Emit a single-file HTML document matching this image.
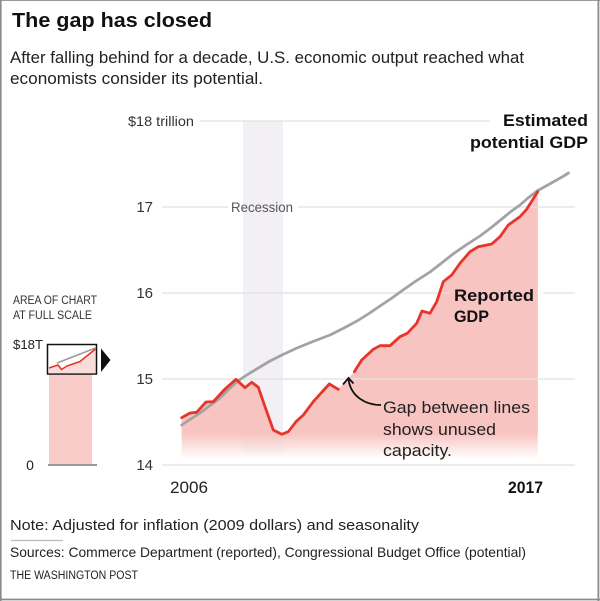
<!DOCTYPE html>
<html>
<head>
<meta charset="utf-8">
<style>
  html,body{margin:0;padding:0;background:#fff;}
  svg{display:block;}
  text{font-family:"Liberation Sans",Arial,sans-serif;}
</style>
</head>
<body>
<svg width="600" height="601" viewBox="0 0 600 601" xmlns="http://www.w3.org/2000/svg">
  <defs>
    <linearGradient id="fade" gradientUnits="userSpaceOnUse" x1="0" y1="433" x2="0" y2="459">
      <stop offset="0" stop-color="#f7c4c1" stop-opacity="1"/>
      <stop offset="1" stop-color="#f7c4c1" stop-opacity="0"/>
    </linearGradient>
    <linearGradient id="fadeBand" gradientUnits="userSpaceOnUse" x1="0" y1="430" x2="0" y2="458">
      <stop offset="0" stop-color="#f2f0f5" stop-opacity="1"/>
      <stop offset="1" stop-color="#f2f0f5" stop-opacity="0"/>
    </linearGradient>
  </defs>

  <rect x="0" y="0" width="600" height="601" fill="#fff"/>
  <!-- frame -->
  <line x1="0" y1="0.5" x2="600" y2="0.5" stroke="#9a9a9a" stroke-width="1"/>
  <line x1="0.8" y1="0" x2="0.8" y2="601" stroke="#8a8a8a" stroke-width="1.6"/>
  <line x1="598.4" y1="0" x2="598.4" y2="601" stroke="#8a8a8a" stroke-width="1.8"/>
  <line x1="0" y1="599.5" x2="600" y2="599.5" stroke="#8a8a8a" stroke-width="1.8"/>

  <!-- header -->
  <text x="12" y="27" font-size="20" font-weight="bold" fill="#111" textLength="200" lengthAdjust="spacingAndGlyphs">The gap has closed</text>
  <text x="10" y="63" font-size="16.5" fill="#222" textLength="514" lengthAdjust="spacingAndGlyphs">After falling behind for a decade, U.S. economic output reached what</text>
  <text x="10" y="84" font-size="16.5" fill="#222" textLength="253" lengthAdjust="spacingAndGlyphs">economists consider its potential.</text>

  <!-- recession band -->
  <rect x="243" y="121" width="40" height="310" fill="#f2f0f5"/>
  <rect x="243" y="430" width="40" height="28" fill="url(#fadeBand)"/>

  <!-- red fill -->
  <polygon fill="url(#fade)" points="181.7,417.7 190,413 196.7,412.3 206,402 213.3,401.7 225,389 236,379.3 245,387.7 251.7,382.3 258.3,387.3 265,406.7 273.3,430 281.7,434.3 288.3,431.7 296,421.7 303.3,415 313.3,401.7 321.7,392.3 329.3,384 338.3,389.3 354.3,371.7 361.7,360 373.3,349.3 380,345.7 390,345.7 400,336.7 407.3,333.3 416.7,323.3 422,311 430,313.3 436.7,301.7 443.3,281.7 451.7,275 460,263.3 470,251.7 478.3,246.7 491.7,244 500,236.7 508.3,225 520,216.7 526.7,209.3 537.7,191.7 537.7,460 181.7,460"/>
  <polygon fill="#f7c4c1" points="181.7,417.7 190,413 196.7,412.3 206,402 213.3,401.7 225,389 236,379.3 245,387.7 251.7,382.3 258.3,387.3 265,406.7 273.3,430 281.7,434.3 288.3,431.7 296,421.7 303.3,415 313.3,401.7 321.7,392.3 329.3,384 338.3,389.3 354.3,371.7 361.7,360 373.3,349.3 380,345.7 390,345.7 400,336.7 407.3,333.3 416.7,323.3 422,311 430,313.3 436.7,301.7 443.3,281.7 451.7,275 460,263.3 470,251.7 478.3,246.7 491.7,244 500,236.7 508.3,225 520,216.7 526.7,209.3 537.7,191.7 537.7,433 181.7,433"/>

  <!-- gridlines -->
  <g stroke="#e2e2e2" stroke-width="1.5" opacity="0.85">
    <line x1="200" y1="121" x2="490" y2="121"/>
    <line x1="162" y1="207" x2="228" y2="207"/>
    <line x1="298" y1="207" x2="575" y2="207"/>
    <line x1="162" y1="293" x2="450" y2="293"/>
    <line x1="543" y1="293" x2="575" y2="293"/>
    <line x1="162" y1="379" x2="575" y2="379"/>
    <line x1="162" y1="465" x2="575" y2="465"/>
  </g>

  <!-- y labels -->
  <g font-size="15" fill="#333" text-anchor="end">
    <text x="194" y="126" font-size="14" textLength="66" lengthAdjust="spacingAndGlyphs">$18 trillion</text>
    <text x="153" y="212">17</text>
    <text x="153" y="298">16</text>
    <text x="153" y="384">15</text>
    <text x="153" y="470">14</text>
  </g>
  <text x="262" y="212" font-size="14" fill="#555" text-anchor="middle" textLength="62" lengthAdjust="spacingAndGlyphs">Recession</text>

  <!-- potential GDP line -->
  <polyline fill="none" stroke="#a3a3a3" stroke-width="2.8" stroke-linejoin="round" stroke-linecap="round"
    points="181.7,425 190,419.5 200,413 210,405.5 220,398 228,390 236,382.5 243,377.5 250,373 260,367 270,361 283,354.5 297,348 313,341.5 330,335 343,328.5 357,321 369,313.5 380,306 392,298 403,290 416,281 430,272 441,263.5 453,254 466,245 480,236 492,227 503,218 511,211.5 520,205 528,198 537,191 546,186 555,181 562,177 568.5,173"/>

  <!-- reported GDP line -->
  <g fill="none" stroke="#e8352c" stroke-width="2.8" stroke-linejoin="round" stroke-linecap="round">
    <polyline points="181.7,417.7 190,413 196.7,412.3 206,402 213.3,401.7 225,389 236,379.3 245,387.7 251.7,382.3 258.3,387.3 265,406.7 273.3,430 281.7,434.3 288.3,431.7 296,421.7 303.3,415 313.3,401.7 321.7,392.3 329.3,384 338.3,389.3"/>
    <polyline points="354.3,371.7 361.7,360 373.3,349.3 380,345.7 390,345.7 400,336.7 407.3,333.3 416.7,323.3 422,311 430,313.3 436.7,301.7 443.3,281.7 451.7,275 460,263.3 470,251.7 478.3,246.7 491.7,244 500,236.7 508.3,225 520,216.7 526.7,209.3 537.7,191.7"/>
  </g>

  <!-- labels -->
  <text x="588" y="126" font-size="17" font-weight="bold" fill="#111" text-anchor="end" textLength="85" lengthAdjust="spacingAndGlyphs">Estimated</text>
  <text x="588" y="148" font-size="17" font-weight="bold" fill="#111" text-anchor="end" textLength="118" lengthAdjust="spacingAndGlyphs">potential GDP</text>
  <text x="454" y="301" font-size="17" font-weight="bold" fill="#111" textLength="80" lengthAdjust="spacingAndGlyphs">Reported</text>
  <text x="454" y="322" font-size="17" font-weight="bold" fill="#111" textLength="35" lengthAdjust="spacingAndGlyphs">GDP</text>

  <!-- annotation -->
  <path d="M381,405 C366,405 351,397 348.5,379.5" fill="none" stroke="#111" stroke-width="1.8"/>
  <polyline points="343,384.5 348.5,378 353.5,383.5" fill="none" stroke="#111" stroke-width="1.8" stroke-linejoin="miter"/>
  <text x="383" y="413" font-size="17" fill="#222" textLength="147" lengthAdjust="spacingAndGlyphs">Gap between lines</text>
  <text x="383" y="435" font-size="17" fill="#222" textLength="113" lengthAdjust="spacingAndGlyphs">shows unused</text>
  <text x="383" y="456" font-size="17" fill="#222" textLength="69" lengthAdjust="spacingAndGlyphs">capacity.</text>

  <!-- x labels -->
  <text x="170" y="493" font-size="17" fill="#222" textLength="38" lengthAdjust="spacingAndGlyphs">2006</text>
  <text x="508" y="493" font-size="16.5" font-weight="bold" fill="#111" textLength="35" lengthAdjust="spacingAndGlyphs">2017</text>

  <!-- inset -->
  <text x="13" y="304" font-size="11.5" fill="#333" textLength="84" lengthAdjust="spacingAndGlyphs">AREA OF CHART</text>
  <text x="13" y="319" font-size="11.5" fill="#333" textLength="79" lengthAdjust="spacingAndGlyphs">AT FULL SCALE</text>
  <text x="13" y="349" font-size="13" fill="#222" textLength="30" lengthAdjust="spacingAndGlyphs">$18T</text>
  <rect x="49" y="374" width="43" height="91" fill="#f8cbc8"/>
  <rect x="47.5" y="344.5" width="49" height="29.5" fill="#fff" stroke="#111" stroke-width="1.5"/>
  <polygon points="49,368 58,365 61.5,369.5 67,366 80,361.5 95.5,349 95.5,373.2 49,373.2" fill="#fadcda"/>
  <polyline points="57,363 95.5,348" fill="none" stroke="#9a9a9a" stroke-width="1.5"/>
  <polyline points="49,368 58,365 61.5,369.5 67,366 80,361.5 95.5,349" fill="none" stroke="#e8352c" stroke-width="1.6" stroke-linejoin="round"/>
  <polygon points="101,348.5 110.5,360 101,372" fill="#111"/>
  <line x1="48" y1="465" x2="97" y2="465" stroke="#999" stroke-width="2"/>
  <text x="30" y="470" font-size="14" fill="#222" text-anchor="middle">0</text>

  <!-- footer -->
  <text x="10" y="530" font-size="15" fill="#222" textLength="409" lengthAdjust="spacingAndGlyphs">Note: Adjusted for inflation (2009 dollars) and seasonality</text>
  <line x1="11" y1="540.5" x2="63" y2="540.5" stroke="#bbb" stroke-width="1.2"/>
  <text x="10" y="557" font-size="14" fill="#222" textLength="516" lengthAdjust="spacingAndGlyphs">Sources: Commerce Department (reported), Congressional Budget Office (potential)</text>
  <text x="10" y="579" font-size="11.5" fill="#222" textLength="128" lengthAdjust="spacingAndGlyphs">THE WASHINGTON POST</text>
</svg>
</body>
</html>
